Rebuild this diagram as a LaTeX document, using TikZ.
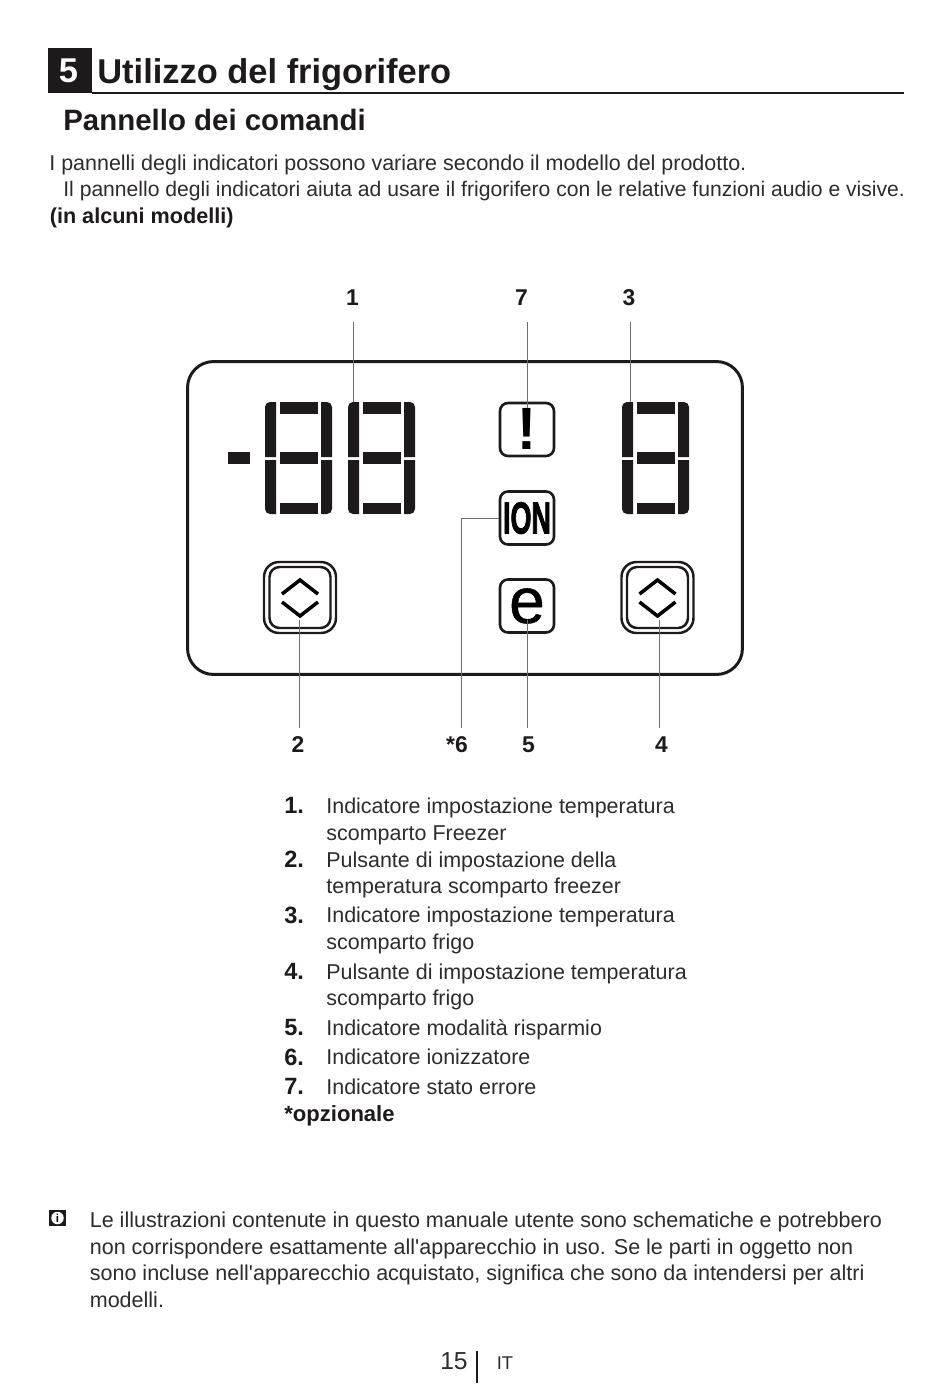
\documentclass[tikz,border=0pt]{standalone}
\usepackage{fontspec}
\setmainfont{Liberation Sans}
\newfontfamily\plainfont{Liberation Sans}
\newfontfamily\heavyfont[FakeBold=2.5]{Liberation Sans Bold}
\newfontfamily\ecofont[FakeBold=0.8]{Liberation Sans}
\usepackage{tikz}
\usetikzlibrary{positioning,calc}
\definecolor{inkblack}{RGB}{28,26,27}
\definecolor{bodygray}{RGB}{45,43,44}
\definecolor{leadgray}{RGB}{110,110,110}
\newcommand{\lcddigit}[1]{%
  \begin{scope}[shift={(#1,0)}]
    \fill[inkblack] (265,457) [rounded corners=0.1cm] -- (265,402) [sharp corners] -- (276,402) -- (276,457) -- cycle;
    \fill[inkblack] (265,460) [rounded corners=0.1cm] -- (265,514) [sharp corners] -- (276,514) -- (276,460) -- cycle;
    \fill[inkblack] (332,457) [rounded corners=0.1cm] -- (332,402) [sharp corners] -- (321,402) -- (321,457) -- cycle;
    \fill[inkblack] (332,460) [rounded corners=0.1cm] -- (332,514) [sharp corners] -- (321,514) -- (321,460) -- cycle;
    \fill[inkblack] (279.5,402) rectangle (317.5,414);
    \fill[inkblack] (279.5,452) rectangle (317.5,464);
    \fill[inkblack] (279.5,503) rectangle (317.5,514);
  \end{scope}}
\newcommand{\updown}[1]{%
  \begin{scope}[shift={(#1,0)}]
    \draw[line width=2pt] (282,594) -- (300,580) -- (318,594);
    \draw[line width=2pt] (282,602) -- (300,616) -- (318,602);
  \end{scope}}
\begin{document}
\begin{tikzpicture}[
  x=0.02cm, y=-0.02cm,
  titletxt/.style={anchor=base west, inner sep=0pt, text=inkblack, font=\fontsize{19.6}{22}\selectfont\bfseries},
  headtxt/.style={anchor=base west, inner sep=0pt, text=inkblack, font=\fontsize{16.75}{20}\selectfont\bfseries},
  bodytxt/.style={anchor=base west, inner sep=0pt, text=bodygray, font=\fontsize{12.22}{15}\selectfont},
  tighttxt/.style={bodytxt, font=\fontsize{12.02}{15}\selectfont},
  notetxt/.style={bodytxt, font=\fontsize{12.25}{15}\selectfont},
  boldtxt/.style={anchor=base west, inner sep=0pt, text=inkblack, font=\fontsize{12.3}{15}\selectfont\bfseries},
  numtxt/.style={anchor=base west, inner sep=0pt, text=inkblack, font=\fontsize{13.4}{15}\selectfont\bfseries},
  lbl/.style={anchor=base, inner sep=0pt, text=inkblack, font=\fontsize{13}{15}\selectfont\bfseries},
  iconbox/.style={draw=inkblack, line width=1.5pt, rounded corners=0.16cm, inner sep=0pt,
              minimum width=1.08cm, minimum height=1.06cm, text=black},
  btnouter/.style={draw=inkblack, line width=1.4pt, rounded corners=0.3cm, inner sep=0pt,
              minimum width=1.44cm, minimum height=1.42cm},
  btninner/.style={draw=inkblack, line width=1.4pt, rounded corners=0.2cm, inner sep=0pt,
              minimum width=1.22cm, minimum height=1.22cm},
  lead/.style={draw=leadgray, line width=0.55pt}
]
\useasboundingbox (0,0) rectangle (950,1384);

\node[fill=inkblack, inner sep=0pt, minimum width=0.88cm, minimum height=0.9cm] (numbox) at (70,70.5) {};
\node[anchor=base, inner sep=0pt, text=white, font=\fontsize{19.6}{22}\selectfont\bfseries] (num) at (68.5,82) {5};
\node[titletxt] (title) at (97,83) {Utilizzo del frigorifero};
\coordinate (ruleend) at (904,93);
\draw[inkblack, line width=1.4pt] (numbox.south east |- ruleend) -- (ruleend);
\node[headtxt] (head) at (63,130) {Pannello dei comandi};
\node[bodytxt] (intro1) at (49,170) {I pannelli degli indicatori possono variare secondo il modello del prodotto.};
\node[tighttxt] (intro2) at (63,196) {Il pannello degli indicatori aiuta ad usare il frigorifero con le relative funzioni audio e visive.};
\node[boldtxt] (intro3) at (49.5,223) {(in alcuni modelli)};

\node[draw=inkblack, line width=1.7pt, rounded corners=0.52cm, minimum width=11.1cm, minimum height=6.26cm] (panel) at (465,518) {};
\fill[inkblack] (228,452) rectangle (250,464);
\lcddigit{0}
\lcddigit{83}
\lcddigit{357}

\node[iconbox] (warn) at (527,429.5) {\raisebox{0.6pt}{\fontsize{34}{34}\selectfont\bfseries\scalebox{0.95}[1]{!}}};
\node[iconbox] (ion) at (527,518) {\fontsize{25.5}{25.5}\heavyfont\scalebox{0.6}[1]{ION}};
\node[iconbox] (eco) at (527,606) {\raisebox{-1pt}{\fontsize{36.5}{36.5}\ecofont e}};
\node[btnouter] (btnfrz) at (300,597.5) {};
\node[btninner] (btnfrzin) at (300,597.5) {};
\node[btnouter] (btnfrg) at (657.5,597.5) {};
\node[btninner] (btnfrgin) at (657.5,597.5) {};
\updown{0}
\updown{357.5}

\node[lbl] (lab1) at (352.5,305) {1};
\node[lbl] (lab7) at (521.5,305) {7};
\node[lbl] (lab3) at (629,305) {3};
\node[lbl] (lab2) at (298,752) {2};
\node[lbl] (lab6) at (457,752) {*6};
\node[lbl] (lab5) at (528.5,752) {5};
\node[lbl] (lab4) at (661.5,752) {4};

\coordinate (top1) at (353.5,322);
\coordinate (top7) at (527,322);
\coordinate (top3) at (630,322);
\coordinate (bot2) at (299,728);
\coordinate (bot6) at (461,728);
\coordinate (bot5) at (527,728);
\coordinate (bot4) at (659.5,728);
\coordinate (end1) at (353.5,402);
\coordinate (end7) at (527,408);
\coordinate (end3) at (630,402);
\coordinate (end2) at (299,620);
\coordinate (end5) at (527,620);
\coordinate (end4) at (659.5,620);
\draw[lead] (top1) -- (end1);
\draw[lead] (top7) -- (end7);
\draw[lead] (top3) -- (end3);
\draw[lead] (bot2) -- (end2);
\draw[lead] (bot5) -- (end5);
\draw[lead] (bot4) -- (end4);
\draw[lead] (bot6) |- (ion.west);

\node[numtxt] (n1) at (284,813) {1.};
\node[bodytxt] (t1a) at (326,813) {Indicatore impostazione temperatura};
\node[bodytxt] (t1b) at (326,840) {scomparto Freezer};
\node[numtxt] (n2) at (284,867) {2.};
\node[bodytxt] (t2a) at (326,867) {Pulsante di impostazione della};
\node[bodytxt] (t2b) at (326,893) {temperatura scomparto freezer};
\node[numtxt] (n3) at (284,923) {3.};
\node[bodytxt] (t3a) at (326,922) {Indicatore impostazione temperatura};
\node[bodytxt] (t3b) at (326,949) {scomparto frigo};
\node[numtxt] (n4) at (284,979) {4.};
\node[bodytxt] (t4a) at (326,979) {Pulsante di impostazione temperatura};
\node[bodytxt] (t4b) at (326,1005) {scomparto frigo};
\node[numtxt] (n5) at (284,1035) {5.};
\node[bodytxt] (t5) at (326,1035) {Indicatore modalità risparmio};
\node[numtxt] (n6) at (284,1065) {6.};
\node[bodytxt] (t6) at (326,1064) {Indicatore ionizzatore};
\node[numtxt] (n7) at (284,1094) {7.};
\node[bodytxt] (t7) at (326,1094) {Indicatore stato errore};
\node[boldtxt, font=\fontsize{12.55}{15}\selectfont\bfseries] (opt) at (284,1121) {*opzionale};

\node[fill=inkblack, inner sep=0pt, minimum width=0.34cm, minimum height=0.32cm] (infobox) at (57.5,1218) {};
\node[circle, fill=white, inner sep=0pt, minimum size=0.25cm, text=black, font=\fontsize{6.5}{6.5}\selectfont\bfseries] (infoi) at (57.5,1218) {i};
\node[notetxt] (note1) at (89.5,1227) {Le illustrazioni contenute in questo manuale utente sono schematiche e potrebbero};
\node[notetxt] (note2) at (89.5,1254) {non corrispondere esattamente all{\plainfont '}apparecchio in uso. Se le parti in oggetto non};
\node[notetxt] (note3) at (89.5,1280) {sono incluse nell{\plainfont '}apparecchio acquistato, significa che sono da intendersi per altri};
\node[notetxt] (note4) at (89.5,1307) {modelli.};

\node[anchor=base, inner sep=0pt, text=bodygray, font=\fontsize{14}{15}\selectfont] (page) at (454,1369) {15};
\coordinate (bartop) at (477,1351);
\coordinate (barbot) at (477,1383);
\draw[inkblack, line width=1.4pt] (bartop) -- (barbot);
\node[anchor=base, inner sep=0pt, text=bodygray, font=\fontsize{10.5}{12}\selectfont] (lang) at (505,1369) {IT};
\end{tikzpicture}
\end{document}
